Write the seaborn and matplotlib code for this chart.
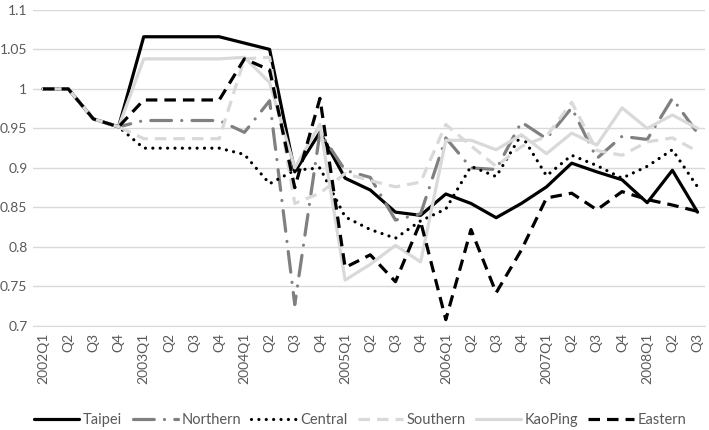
import numpy as np
import pandas as pd
import matplotlib
matplotlib.use("Agg")
import matplotlib.pyplot as plt
import seaborn as sns
from matplotlib.ticker import FuncFormatter

quarters = ["2002Q1", "Q2", "Q3", "Q4", "2003Q1", "Q2", "Q3", "Q4",
            "2004Q1", "Q2", "Q3", "Q4", "2005Q1", "Q2", "Q3", "Q4",
            "2006Q1", "Q2", "Q3", "Q4", "2007Q1", "Q2", "Q3", "Q4",
            "2008Q1", "Q2", "Q3"]

taipei = [1, 1, 0.962, 0.952, 1.066, 1.066, 1.066, 1.066, 1.058, 1.05, 0.895,
          0.945, 0.887, 0.872, 0.844, 0.84, 0.867, 0.855, 0.837, 0.855, 0.876,
          0.906, 0.895, 0.885, 0.856, 0.897, 0.844]
northern = [1, 1, 0.962, 0.952, 0.96, 0.96, 0.96, 0.96, 0.945, 0.985, 0.727,
            0.945, 0.897, 0.888, 0.834, 0.842, 0.938, 0.9, 0.898, 0.958, 0.937,
            0.976, 0.912, 0.94, 0.936, 0.988, 0.944]
central = [1, 1, 0.962, 0.952, 0.925, 0.925, 0.925, 0.925, 0.917, 0.88, 0.897,
           0.9, 0.838, 0.822, 0.811, 0.833, 0.848, 0.902, 0.889, 0.942, 0.89,
           0.916, 0.903, 0.887, 0.902, 0.923, 0.876]
southern = [1, 1, 0.962, 0.952, 0.937, 0.937, 0.937, 0.937, 1.038, 1.04, 0.855,
            0.868, 0.893, 0.884, 0.876, 0.882, 0.955, 0.928, 0.902, 0.927, 0.94,
            0.983, 0.922, 0.916, 0.933, 0.938, 0.921]
kaoping = [1, 1, 0.962, 0.952, 1.038, 1.038, 1.038, 1.038, 1.04, 1.008, 0.9,
           0.955, 0.758, 0.778, 0.802, 0.781, 0.935, 0.935, 0.923, 0.942, 0.918,
           0.944, 0.929, 0.976, 0.95, 0.967, 0.95]
eastern = [1, 1, 0.962, 0.952, 0.986, 0.986, 0.986, 0.986, 1.038, 1.024, 0.875,
           0.988, 0.774, 0.79, 0.756, 0.832, 0.708, 0.822, 0.742, 0.796, 0.862,
           0.868, 0.847, 0.87, 0.86, 0.853, 0.845]

regions = ["Taipei", "Northern", "Central", "Southern", "KaoPing", "Eastern"]
series = [taipei, northern, central, southern, kaoping, eastern]

# line look per region: colour, linestyle, capstyle
styles = {
    "Taipei":   ("#000000", "-", "butt"),
    "Northern": ("#808080", (0, (6.5, 3.2, 0.01, 3.2)), "round"),
    "Central":  ("#000000", (0, (0.01, 2.3)), "round"),
    "Southern": ("#d9d9d9", (0, (3.6, 2.2)), "butt"),
    "KaoPing":  ("#d9d9d9", "-", "butt"),
    "Eastern":  ("#000000", (0, (3.6, 2.2)), "butt"),
}

sns.set_style("white")
plt.rcParams["font.family"] = ["Lato", "DejaVu Sans"]

fig = plt.figure(figsize=(7.09, 4.30), dpi=100)
ax = fig.add_axes([0.0465, 0.242, 0.948, 0.735])

pos = np.arange(len(quarters))
for name, vals in zip(regions, series):
    color, ls, cap = styles[name]
    sns.lineplot(x=pos, y=vals, ax=ax, color=color, linestyle=ls, lw=2.3,
                 label=name, dash_capstyle=cap, solid_joinstyle="round")

ax.set_ylim(0.7, 1.1)
ax.set_yticks(np.arange(0.7, 1.1001, 0.05))
ax.yaxis.set_major_formatter(FuncFormatter(lambda v, p: f"{v:g}"))
ax.set_xlim(-0.4, 26.3)
ax.set_xticks(pos)
ax.set_xticklabels(quarters, rotation=90)
ax.grid(axis="y", color="#d9d9d9", lw=1.0)
ax.set_axisbelow(True)
for s in ["top", "right", "left"]:
    ax.spines[s].set_visible(False)
ax.spines["bottom"].set_color("#d9d9d9")
ax.tick_params(axis="both", length=0, labelsize=10, colors="#595959")
ax.tick_params(axis="x", pad=5)
ax.tick_params(axis="y", pad=4)
ax.set_xlabel("")
ax.set_ylabel("")

ax.get_legend().remove()
handles, labels = ax.get_legend_handles_labels()
fig.legend(handles, labels, loc="center", bbox_to_anchor=(0.508, 0.024),
           ncol=6, frameon=False, fontsize=10.5, handlelength=3.1,
           columnspacing=0.7, handletextpad=0.25, labelcolor="#595959")

fig.savefig("out.png", dpi=100)
